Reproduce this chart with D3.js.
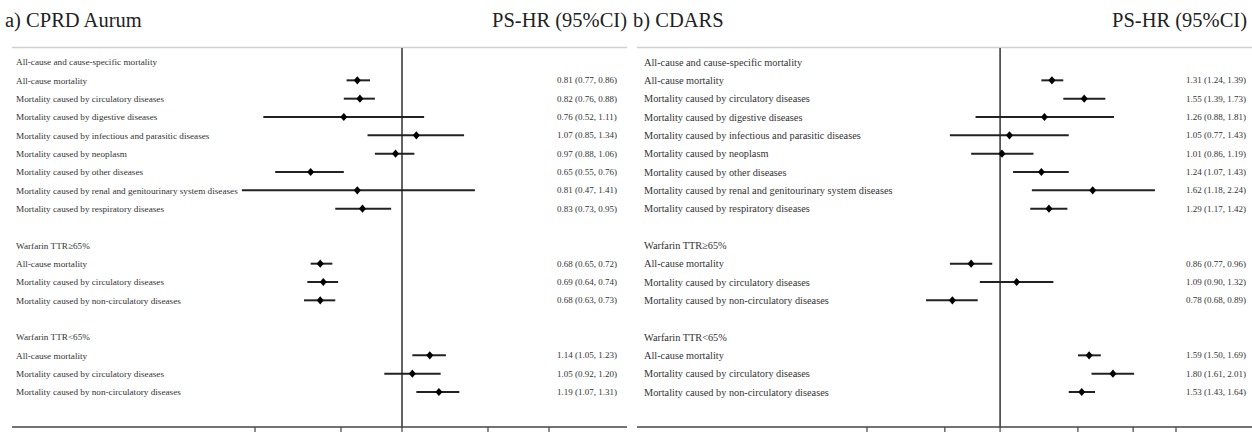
<!DOCTYPE html>
<html>
<head>
<meta charset="utf-8">
<script src="https://cdn.jsdelivr.net/npm/d3@7"></script>
<style>
  html, body { margin: 0; padding: 0; background: #fff; }
  svg { display: block; }
  svg text { font-family: 'Liberation Serif', 'DejaVu Serif', serif; }
</style>
</head>
<body>
<div id="chart"></div>
<script>
// Row layout shared by both panels (null = header / blank row)
const rowLabels = [
  'All-cause and cause-specific mortality',
  'All-cause mortality',
  'Mortality caused by circulatory diseases',
  'Mortality caused by digestive diseases',
  'Mortality caused by infectious and parasitic diseases',
  'Mortality caused by neoplasm',
  'Mortality caused by other diseases',
  'Mortality caused by renal and genitourinary system diseases',
  'Mortality caused by respiratory diseases',
  '',
  'Warfarin TTR\u226565%',
  'All-cause mortality',
  'Mortality caused by circulatory diseases',
  'Mortality caused by non-circulatory diseases',
  '',
  'Warfarin TTR<65%',
  'All-cause mortality',
  'Mortality caused by circulatory diseases',
  'Mortality caused by non-circulatory diseases'
];

// a) CPRD Aurum
const hrA   = [null, 0.81, 0.82, 0.76, 1.07, 0.97, 0.65, 0.81, 0.83, null, null, 0.68, 0.69, 0.68, null, null, 1.14, 1.05, 1.19];
const lowA  = [null, 0.77, 0.76, 0.52, 0.85, 0.88, 0.55, 0.47, 0.73, null, null, 0.65, 0.64, 0.63, null, null, 1.05, 0.92, 1.07];
const highA = [null, 0.86, 0.88, 1.11, 1.34, 1.06, 0.76, 1.41, 0.95, null, null, 0.72, 0.74, 0.73, null, null, 1.23, 1.20, 1.31];
const ticksA = [0.5, 0.75, 1, 1.5, 2];

// b) CDARS
const hrB   = [null, 1.31, 1.55, 1.26, 1.05, 1.01, 1.24, 1.62, 1.29, null, null, 0.86, 1.09, 0.78, null, null, 1.59, 1.80, 1.53];
const lowB  = [null, 1.24, 1.39, 0.88, 0.77, 0.86, 1.07, 1.18, 1.17, null, null, 0.77, 0.90, 0.68, null, null, 1.50, 1.61, 1.43];
const highB = [null, 1.39, 1.73, 1.81, 1.43, 1.19, 1.43, 2.24, 1.42, null, null, 0.96, 1.32, 0.89, null, null, 1.69, 2.01, 1.64];
const ticksB = [0.5, 0.75, 1, 1.5, 2, 2.5];

const W = 1252, H = 432;
const FONT = 'Liberation Serif, DejaVu Serif, serif';

const svg = d3.select('#chart').append('svg')
    .attr('width', W).attr('height', H);

const y = d3.scaleLinear().domain([0, rowLabels.length - 1]).range([62, 392]);

function panel(opt) {
    const g = svg.append('g').attr('font-family', FONT);
    const x = d3.scaleLog().domain(opt.tickDomain).range(opt.tickRange);
    const fmt = d3.format('.2f');

    // title + column header
    g.append('text').attr('x', opt.titleX).attr('y', 27)
        .attr('font-size', 20.5).attr('fill', '#222').text(opt.title);
    g.append('text').attr('x', opt.headX).attr('y', 27)
        .attr('font-size', 20.5).attr('fill', '#222').attr('text-anchor', 'end')
        .text('PS-HR (95%CI)');

    // top rule
    g.append('line')
        .attr('x1', opt.left).attr('x2', opt.right)
        .attr('y1', 47.5).attr('y2', 47.5)
        .attr('stroke', '#cfcfcf').attr('stroke-width', 1.5);

    // reference line at HR = 1
    g.append('line')
        .attr('x1', x(1)).attr('x2', x(1))
        .attr('y1', 48).attr('y2', 427)
        .attr('stroke', '#222').attr('stroke-width', 1.4);

    // bottom axis: full-width line + downward ticks
    const axis = g.append('g').attr('transform', 'translate(0,427)');
    axis.append('line')
        .attr('x1', opt.left).attr('x2', opt.right)
        .attr('stroke', '#444').attr('stroke-width', 1.5);
    axis.selectAll('line.tick').data(opt.ticks).join('line')
        .attr('class', 'tick')
        .attr('x1', d => x(d)).attr('x2', d => x(d))
        .attr('y1', 0).attr('y2', 8)
        .attr('stroke', '#444').attr('stroke-width', 1.2);

    // row labels
    g.selectAll('text.lab').data(rowLabels).join('text')
        .attr('class', 'lab')
        .attr('x', opt.labelX)
        .attr('y', (d, i) => y(i))
        .attr('dy', '0.35em')
        .attr('font-size', opt.labelSize)
        .attr('fill', '#333')
        .text(d => d);

    const rows = rowLabels.map((d, i) => ({ i, hr: opt.hr[i], lo: opt.low[i], hi: opt.high[i] }))
        .filter(r => r.hr != null);

    // CI whiskers
    g.selectAll('line.ci').data(rows).join('line')
        .attr('class', 'ci')
        .attr('x1', d => x(d.lo)).attr('x2', d => x(d.hi))
        .attr('y1', d => y(d.i)).attr('y2', d => y(d.i))
        .attr('stroke', '#222').attr('stroke-width', 2);

    // point estimates
    g.selectAll('path.pt').data(rows).join('path')
        .attr('class', 'pt')
        .attr('d', d3.symbol(d3.symbolDiamond, 30))
        .attr('transform', d => `translate(${x(d.hr)},${y(d.i)}) scale(1.2,0.8)`)
        .attr('fill', '#000');

    // estimate text
    g.selectAll('text.val').data(rows).join('text')
        .attr('class', 'val')
        .attr('x', opt.valueX)
        .attr('y', d => y(d.i))
        .attr('dy', '0.35em')
        .attr('font-size', 9)
        .attr('fill', '#333')
        .text(d => `${fmt(d.hr)} (${fmt(d.lo)}, ${fmt(d.hi)})`);
}

panel({
    title: 'a) CPRD Aurum', titleX: 5, headX: 627,
    left: 12, right: 627, labelX: 16, labelSize: 9.2, valueX: 557,
    tickDomain: [0.5, 2], tickRange: [255, 549], ticks: ticksA,
    hr: hrA, low: lowA, high: highA
});

panel({
    title: 'b) CDARS', titleX: 633, headX: 1247,
    left: 637, right: 1252, labelX: 644, labelSize: 10.3, valueX: 1186,
    tickDomain: [0.5, 2.5], tickRange: [867, 1176], ticks: ticksB,
    hr: hrB, low: lowB, high: highB
});
</script>
</body>
</html>
